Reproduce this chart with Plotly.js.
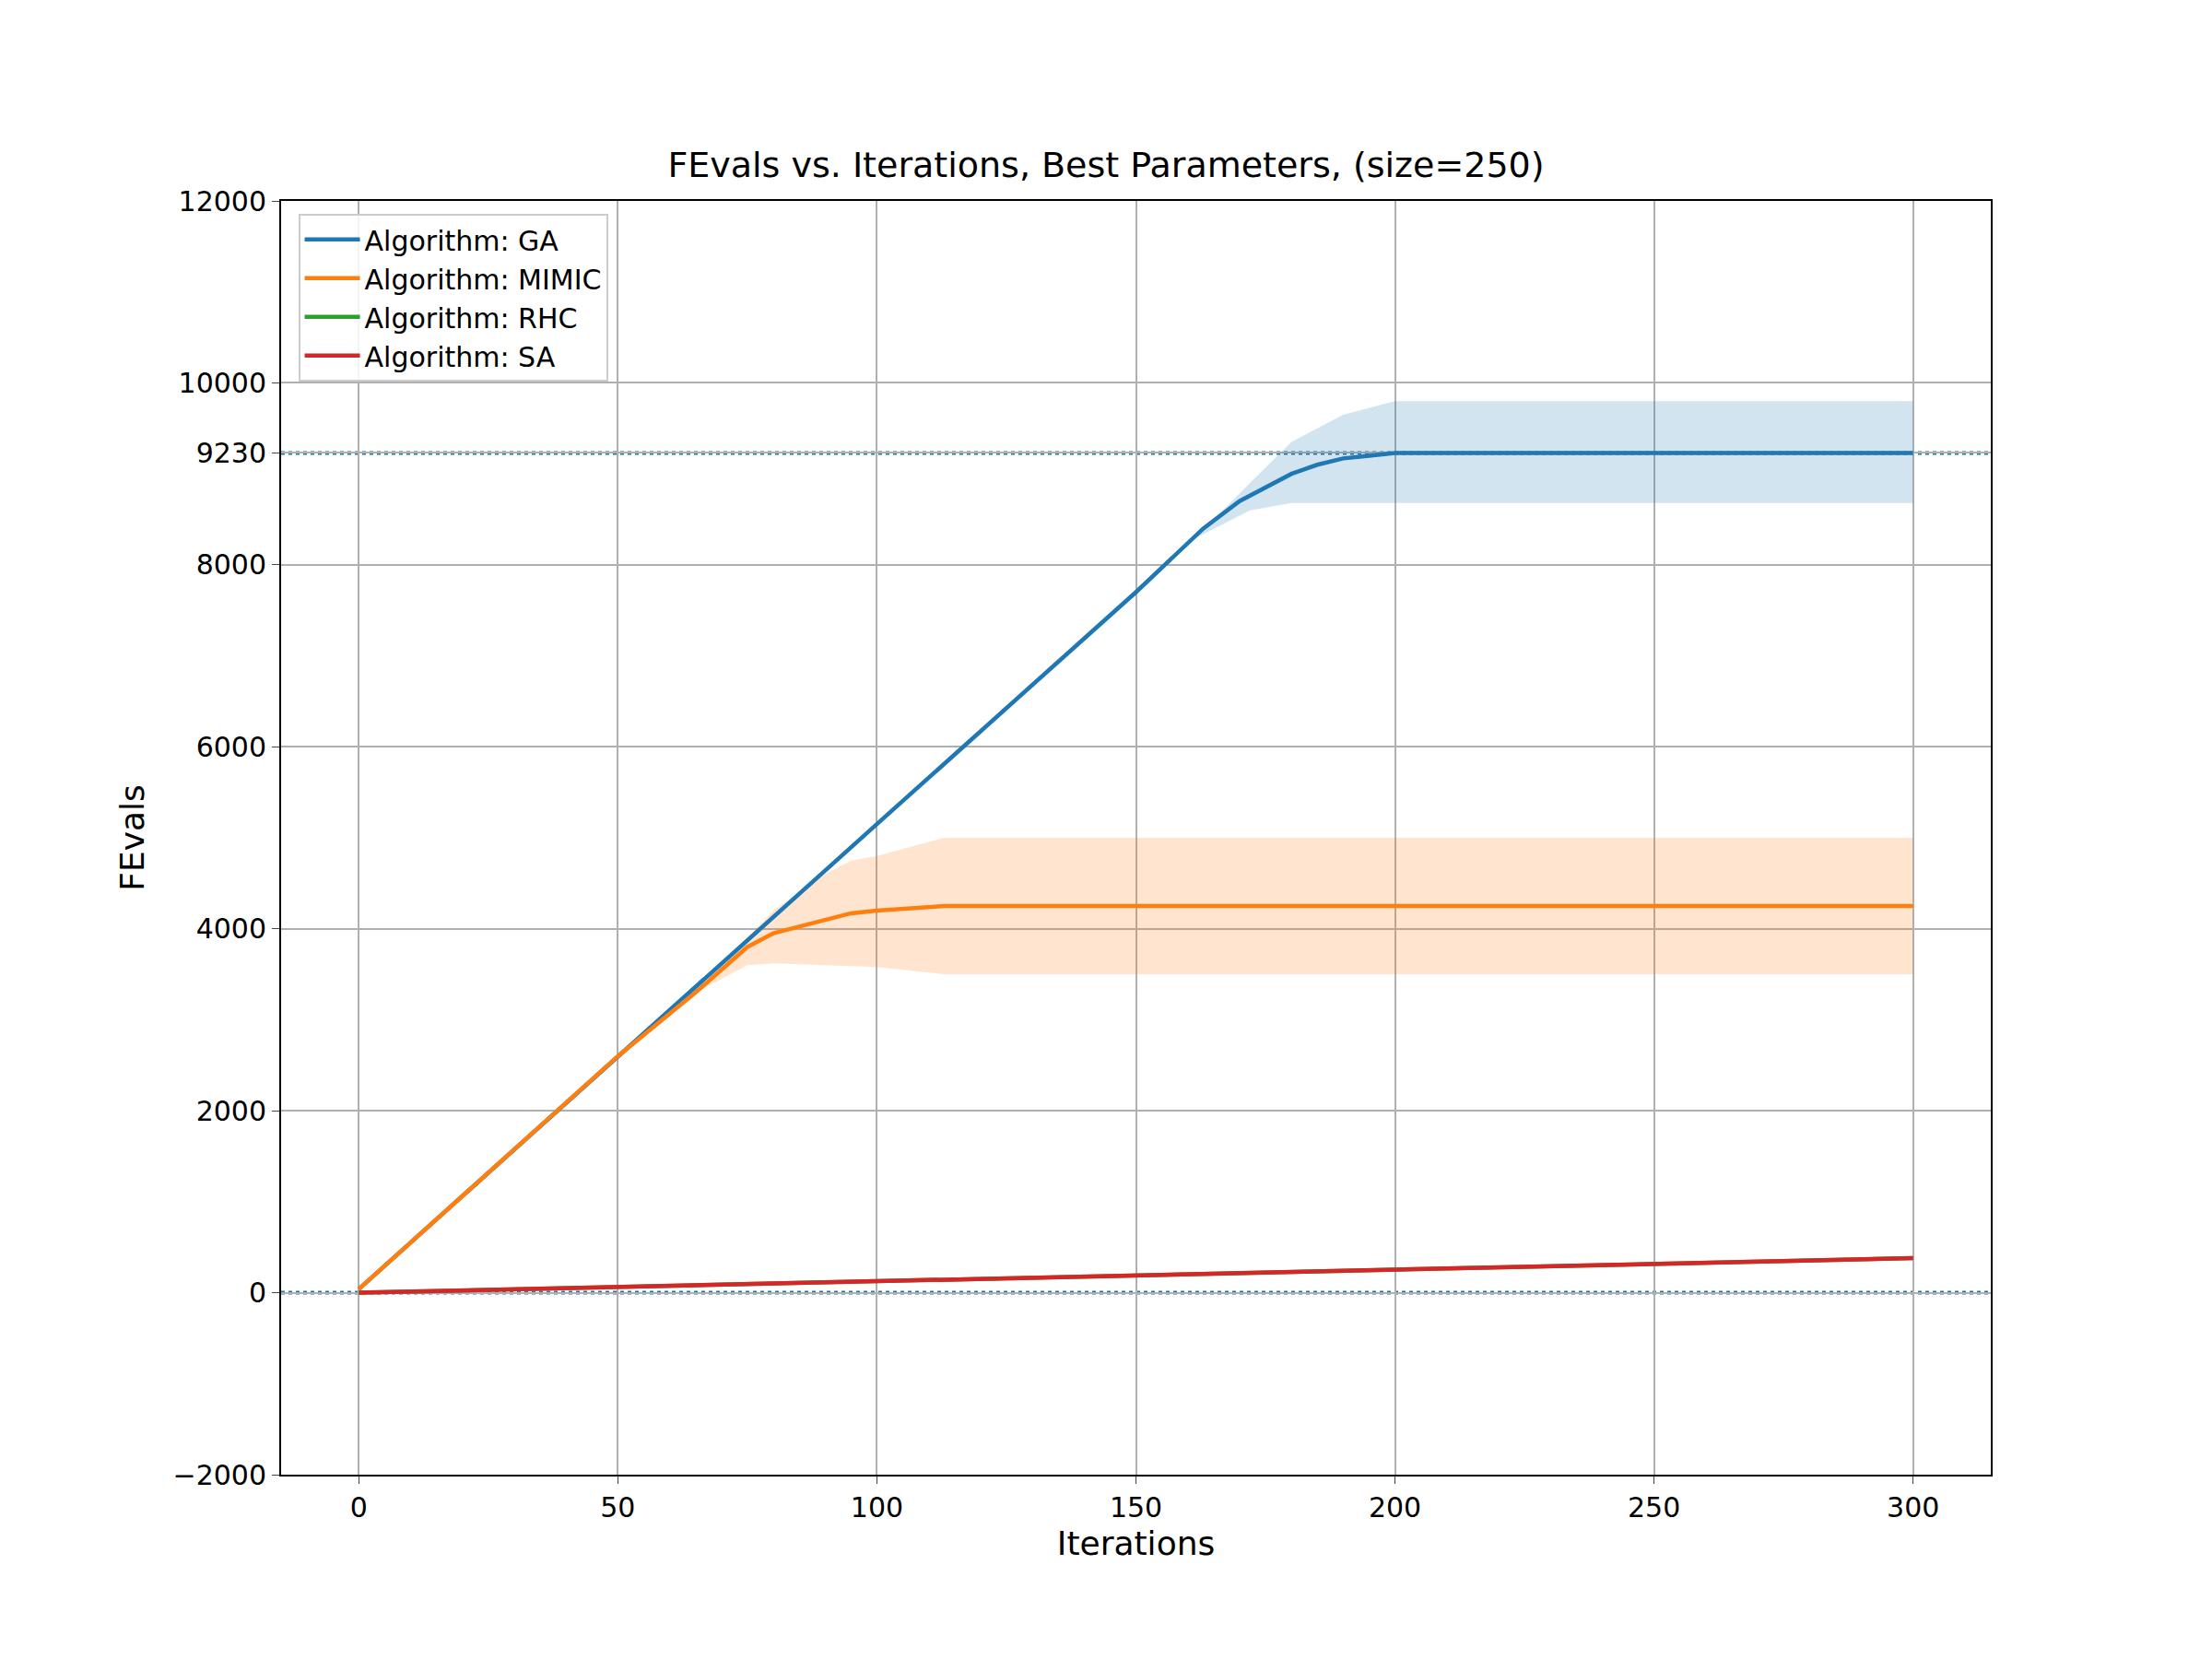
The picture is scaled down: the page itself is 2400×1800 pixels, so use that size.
<!DOCTYPE html>
<html><head><meta charset="utf-8">
<script src="https://cdn.plot.ly/plotly-3.0.1.min.js"></script>
<style>body{margin:0}#plot{width:2400px;height:1800px}</style>
</head><body><div id="plot"></div>
<script>
// GA mean and band
const gaX = [0, 50, 100, 150, 163, 170, 175, 180, 185, 190, 195, 200, 250, 300];
const gaY = [40, 2600, 5150, 7700, 8400, 8700, 8850, 9000, 9100, 9170, 9200, 9230, 9230, 9230];
const gaBandX = [0, 160, 165, 172, 180, 190, 200, 300];
const gaUpper = [40, 8250, 8500, 8900, 9350, 9650, 9800, 9800];
const gaLower = [40, 8250, 8400, 8600, 8680, 8680, 8680, 8680];

// MIMIC mean and band
const mimicX = [0, 50, 65, 70, 75, 80, 90, 95, 100, 113, 200, 300];
const mimicY = [40, 2600, 3300, 3550, 3800, 3950, 4100, 4170, 4200, 4250, 4250, 4250];
const mimicBandX = [0, 65, 70, 75, 80, 90, 95, 100, 113, 300];
const mimicUpper = [40, 3300, 3600, 3900, 4200, 4600, 4750, 4800, 5000, 5000];
const mimicLower = [40, 3300, 3450, 3600, 3620, 3600, 3590, 3580, 3500, 3500];

// RHC / SA
const lowX = [0, 300];
const rhcY = [0, 380];
const saY = [0, 380];

const yTicks = [-2000, 0, 2000, 4000, 6000, 8000, 9230, 10000, 12000];

const band = (x, lo, hi, color) => ({
  x: x.concat(x.slice().reverse()),
  y: hi.concat(lo.slice().reverse()),
  fill: 'toself', fillcolor: color, line: {width: 0},
  mode: 'lines', showlegend: false, hoverinfo: 'skip'
});

const traces = [
  band(gaBandX, gaLower, gaUpper, 'rgba(31,119,180,0.2)'),
  band(mimicBandX, mimicLower, mimicUpper, 'rgba(255,127,14,0.2)'),
  {x: gaX, y: gaY, mode: 'lines', name: 'Algorithm: GA', line: {color: '#1f77b4', width: 4.5}},
  {x: mimicX, y: mimicY, mode: 'lines', name: 'Algorithm: MIMIC', line: {color: '#ff7f0e', width: 4.5}},
  {x: lowX, y: rhcY, mode: 'lines', name: 'Algorithm: RHC', line: {color: '#2ca02c', width: 4.5}},
  {x: lowX, y: saY, mode: 'lines', name: 'Algorithm: SA', line: {color: '#d62728', width: 4.5}}
];

const hline = v => ({type: 'line', xref: 'paper', x0: 0, x1: 1, yref: 'y', y0: v, y1: v, layer: 'below',
  line: {color: '#1f77b4', width: 4, dash: 'dot'}});

const layout = {
  font: {family: 'DejaVu Sans', size: 30, color: '#000'},
  paper_bgcolor: '#fff', plot_bgcolor: '#fff',
  margin: {l: 305, r: 240, t: 218, b: 200},
  title: {text: 'FEvals vs. Iterations, Best Parameters, (size=250)', font: {size: 38}, y: 0.901, yanchor: 'middle'},
  xaxis: {range: [-15, 315], tickvals: [0, 50, 100, 150, 200, 250, 300], showgrid: true, gridcolor: '#b0b0b0', gridwidth: 2,
    zeroline: false, showline: true, mirror: true, linecolor: '#000', linewidth: 2, ticks: 'outside', ticklen: 8,
    title: {text: 'Iterations', standoff: 10}},
  yaxis: {range: [-2000, 12000], tickvals: yTicks, ticktext: yTicks.map(v => v < 0 ? '\u2212' + (-v) : String(v)),
    showgrid: true, gridcolor: '#b0b0b0', gridwidth: 2, zeroline: false, showline: true, mirror: true,
    linecolor: '#000', linewidth: 2, ticks: 'outside', ticklen: 8, title: {text: 'FEvals', standoff: 20}},
  legend: {x: 0.01, y: 0.99, xanchor: 'left', yanchor: 'top', bgcolor: 'rgba(255,255,255,0.85)',
    bordercolor: '#ccc', borderwidth: 2, font: {size: 30}, itemwidth: 60, tracegroupgap: 8},
  shapes: [hline(9230), hline(0)]
};

Plotly.newPlot('plot', traces, layout, {displayModeBar: false});
</script></body></html>
